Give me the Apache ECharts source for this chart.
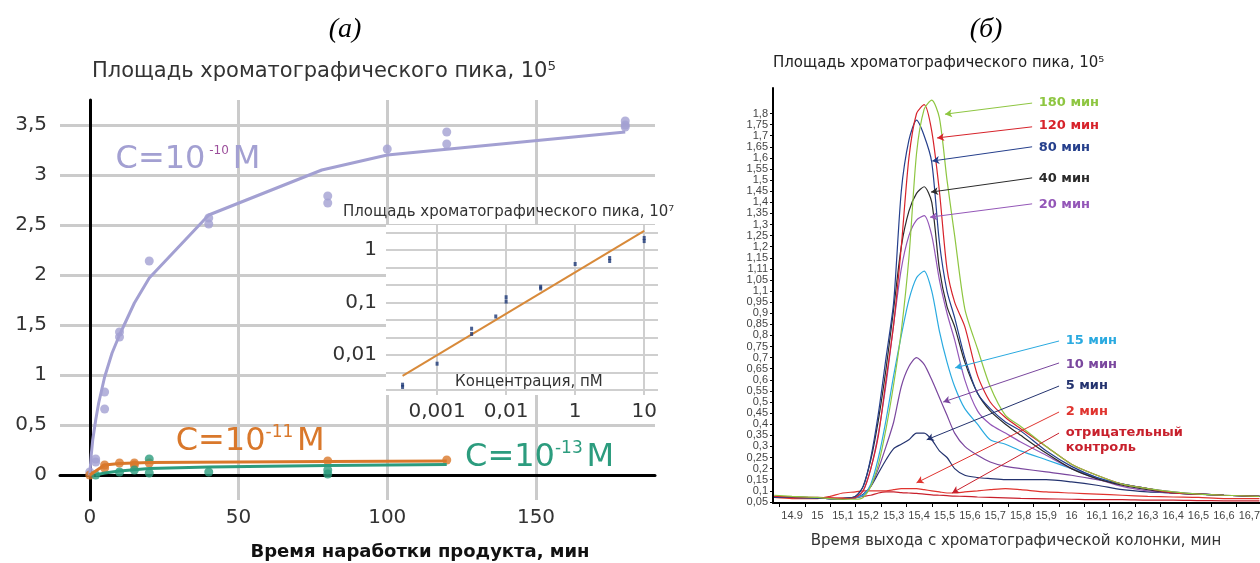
<!DOCTYPE html>
<html>
<head>
<meta charset="utf-8">
<script src="https://cdn.jsdelivr.net/npm/echarts@6/dist/echarts.min.js"></script>
<style>
html, body { margin: 0; padding: 0; background: #fff; }
#chart { width: 1260px; height: 563px; }
</style>
</head>
<body>
<div id="chart"></div>
<script>
// (а) main plot: time, min  /  peak area, 10^5
var c10Time = [0, 2, 2, 5, 5, 10, 10, 20, 40, 40, 80, 80, 100, 120, 120, 180, 180, 180];
var c10Area = [0.03, 0.13, 0.16, 0.83, 0.66, 1.43, 1.38, 2.14, 2.57, 2.51, 2.79, 2.72, 3.26, 3.43, 3.31, 3.54, 3.5, 3.48];
var c10FitTime = [0, 0.5, 1, 2, 3, 5, 7.5, 10, 15, 20, 40, 78, 100, 180];
var c10FitArea = [0, 0.2, 0.35, 0.55, 0.72, 0.98, 1.22, 1.4, 1.72, 1.97, 2.6, 3.05, 3.2, 3.43];
var c11Time = [0, 5, 5, 10, 15, 15, 20, 80, 120];
var c11Area = [0, 0.1, 0.07, 0.12, 0.12, 0.1, 0.12, 0.14, 0.15];
var c11FitTime = [0, 2, 5, 10, 20, 80, 120];
var c11FitArea = [0, 0.04, 0.1, 0.115, 0.125, 0.135, 0.14];
var c13Time = [2, 10, 15, 20, 20, 40, 80, 80];
var c13Area = [0, 0.03, 0.05, 0.16, 0.02, 0.03, 0.05, 0.01];
var c13FitTime = [2, 5, 10, 20, 40, 80, 120];
var c13FitArea = [0, 0.02, 0.04, 0.065, 0.08, 0.095, 0.105];

// inset: x in label slots, y in thirds of a decade (0 = "1")
var insetXTicks = [0, 1, 2, 3];
var insetXText = ['0,001', '0,01', '1', '10'];
var insetYTicks = [0, -3, -6];
var insetYText = ['1', '0,1', '0,01'];
var insetPtX = [-0.5, -0.5, 0, 0.5, 0.5, 0.85, 1, 1, 1.5, 1.5, 2, 2.5, 2.5, 3, 3];
var insetPtY = [-7.83, -7.7, -6.5, -4.5, -4.8, -3.8, -2.7, -2.95, -2.1, -2.2, -0.8, -0.46, -0.63, 0.69, 0.51];
var insetFitX = [-0.5, 3];
var insetFitY = [-7.2, 1.09];

// (б) chromatograms
var rtTime = [14.83, 14.9, 15.0, 15.05, 15.1, 15.15, 15.18, 15.21, 15.24, 15.27, 15.3, 15.33, 15.36, 15.39, 15.42, 15.45, 15.48, 15.51, 15.54, 15.58, 15.63, 15.68, 15.74, 15.8, 15.9, 16.0, 16.1, 16.2, 16.3, 16.4, 16.5, 16.6, 16.74];
var min180 = [0.08, 0.075, 0.07, 0.065, 0.062, 0.062, 0.07, 0.12, 0.22, 0.38, 0.58, 0.82, 1.15, 1.62, 1.82, 1.86, 1.78, 1.5, 1.25, 0.92, 0.74, 0.57, 0.44, 0.39, 0.3, 0.22, 0.17, 0.13, 0.11, 0.095, 0.085, 0.08, 0.075];
var min120 = [0.075, 0.072, 0.07, 0.068, 0.065, 0.07, 0.1, 0.2, 0.35, 0.6, 0.85, 1.2, 1.6, 1.8, 1.84, 1.72, 1.45, 1.1, 0.95, 0.84, 0.62, 0.5, 0.43, 0.38, 0.3, 0.22, 0.17, 0.13, 0.11, 0.09, 0.085, 0.08, 0.075];
var min80 = [0.07, 0.07, 0.068, 0.065, 0.065, 0.075, 0.12, 0.25, 0.45, 0.7, 0.95, 1.45, 1.68, 1.77, 1.7, 1.58, 1.22, 1.0, 0.88, 0.7, 0.54, 0.47, 0.41, 0.37, 0.28, 0.21, 0.16, 0.13, 0.11, 0.09, 0.085, 0.08, 0.075];
var min40 = [0.07, 0.07, 0.068, 0.065, 0.065, 0.075, 0.12, 0.24, 0.42, 0.65, 0.92, 1.2, 1.36, 1.44, 1.47, 1.4, 1.1, 0.93, 0.84, 0.68, 0.54, 0.46, 0.4, 0.35, 0.27, 0.2, 0.155, 0.125, 0.105, 0.09, 0.085, 0.08, 0.075];
var min20 = [0.07, 0.07, 0.068, 0.065, 0.065, 0.07, 0.1, 0.2, 0.36, 0.58, 0.85, 1.1, 1.25, 1.32, 1.34, 1.25, 1.05, 0.9, 0.78, 0.6, 0.46, 0.4, 0.36, 0.32, 0.26, 0.2, 0.155, 0.12, 0.1, 0.09, 0.085, 0.08, 0.075];
var min15 = [0.07, 0.07, 0.068, 0.065, 0.065, 0.07, 0.08, 0.13, 0.25, 0.42, 0.62, 0.8, 0.96, 1.06, 1.09, 1.0, 0.82, 0.68, 0.57, 0.47, 0.4, 0.33, 0.31, 0.28, 0.24, 0.2, 0.16, 0.13, 0.11, 0.09, 0.085, 0.08, 0.075];
var min10 = [0.07, 0.07, 0.068, 0.065, 0.065, 0.068, 0.08, 0.12, 0.2, 0.3, 0.41, 0.57, 0.66, 0.7, 0.67, 0.6, 0.52, 0.44, 0.36, 0.3, 0.26, 0.23, 0.21, 0.2, 0.185, 0.17, 0.15, 0.13, 0.11, 0.095, 0.085, 0.08, 0.075];
var min5 = [0.07, 0.07, 0.068, 0.065, 0.065, 0.068, 0.085, 0.12, 0.18, 0.24, 0.29, 0.31, 0.33, 0.36, 0.36, 0.33, 0.28, 0.25, 0.2, 0.17, 0.16, 0.155, 0.15, 0.15, 0.15, 0.14, 0.125, 0.105, 0.095, 0.09, 0.085, 0.08, 0.075];
var min2 = [0.07, 0.065, 0.065, 0.075, 0.09, 0.095, 0.1, 0.1, 0.1, 0.1, 0.105, 0.11, 0.11, 0.11, 0.105, 0.1, 0.095, 0.09, 0.09, 0.095, 0.1, 0.105, 0.11, 0.105, 0.095, 0.09, 0.085, 0.08, 0.075, 0.072, 0.07, 0.065, 0.065];
var control = [0.075, 0.07, 0.068, 0.067, 0.068, 0.07, 0.075, 0.08, 0.09, 0.095, 0.095, 0.092, 0.09, 0.088, 0.085, 0.082, 0.08, 0.078, 0.076, 0.075, 0.072, 0.07, 0.068, 0.066, 0.064, 0.062, 0.06, 0.06, 0.058, 0.058, 0.056, 0.055, 0.055];

var rtXText = ['14.9', '15', '15,1', '15,2', '15,3', '15,4', '15,5', '15,6', '15,7', '15,8', '15,9', '16', '16,1', '16,2', '16,3', '16,4', '16,5', '16,6', '16,7'];
// printed as in the original, bottom to top
var rtYText = ['0,05', '0,1', '0,15', '0,2', '0,25', '0,3', '0,35', '0,4', '0,45', '0,5', '0,55', '0,6', '0,65', '0,7', '0,75', '0,8', '0,85', '0,9', '0,95', '1,1', '1,05', '1,11', '1,15', '1,2', '1,25', '1,3', '1,35', '1,4', '1,45', '1,5', '1,55', '1,6', '1,65', '1,7', '1,75', '1,8'];

var rtNames = ['отрицательный\nконтроль', '2 мин', '5 мин', '10 мин', '15 мин', '20 мин', '40 мин', '80 мин', '120 мин', '180 мин'];
var rtValues = [control, min2, min5, min10, min15, min20, min40, min80, min120, min180];
var rtColors = ['#c8202c', '#e0342f', '#24336f', '#7a479e', '#2aaae0', '#9457b8', '#2b2b2b', '#253f8c', '#d7232b', '#8ec641'];
// annotation: label anchor and arrow tip, in data units
var noteT = [15.975, 15.975, 15.975, 15.975, 15.975, 15.869, 15.869, 15.869, 15.869, 15.869];
var noteV = [0.33, 0.455, 0.572, 0.667, 0.775, 1.388, 1.505, 1.645, 1.744, 1.847];
var arrowV = [0.36, 0.455, 0.572, 0.676, 0.775, 1.393, 1.51, 1.65, 1.74, 1.847];
var tipT = [15.53, 15.39, 15.43, 15.495, 15.542, 15.443, 15.447, 15.452, 15.471, 15.502];
var tipV = [0.09, 0.136, 0.33, 0.5, 0.654, 1.333, 1.446, 1.586, 1.69, 1.797];

var FONT = 'DejaVu Sans';
var SMALL = 'Liberation Sans';
var lav = '#a3a0d2', orange = '#d9782b', teal = '#2c9c7e';

function zip(a, b) { return a.map(function (v, i) { return [v, b[i]]; }); }
function near(v, step) { return Math.abs(v / step - Math.round(v / step)) < 1e-6; }

// tick positions of the (б) axes, taken from the label lists
var rtXPos = rtXText.map(function (s, i) { return +(14.9 + i * 0.1).toFixed(2); });
var rtXTickPos = rtXPos.map(function (v) { return +(v - 0.05).toFixed(3); });
var rtYPos = rtYText.map(function (s, i) { return +(0.05 + i * 0.05).toFixed(2); });

var chart = echarts.init(document.getElementById('chart'));

function cLabel(text, color, supColor, supSize, coord) {
    return { symbol: 'circle', symbolSize: 1, itemStyle: { color: 'rgba(0,0,0,0)' },
        label: { show: true, position: 'right', distance: 0, formatter: text,
            rich: { b: { fontSize: 32, color: color, fontFamily: FONT },
                    s: { fontSize: supSize, color: supColor, fontFamily: FONT, padding: [0, 0, 18, 0] } } },
        data: [{ coord: coord }] };
}

var series = [
    { type: 'line', xAxisIndex: 0, yAxisIndex: 0, data: zip(c10FitTime, c10FitArea), showSymbol: false,
      lineStyle: { color: lav, width: 3 }, markPoint: cLabel('{b|C=10} {s|-10} {b|M}', lav, '#9c4f9b', 12, [8.5, 3.15]) },
    { type: 'scatter', xAxisIndex: 0, yAxisIndex: 0, data: zip(c10Time, c10Area), symbolSize: 9, itemStyle: { color: lav } },
    { type: 'line', xAxisIndex: 0, yAxisIndex: 0, data: zip(c11FitTime, c11FitArea), showSymbol: false,
      lineStyle: { color: orange, width: 3 }, markPoint: cLabel('{b|C=10}{s|-11} {b|M}', orange, orange, 17, [28.7, 0.33]) },
    { type: 'scatter', xAxisIndex: 0, yAxisIndex: 0, data: zip(c11Time, c11Area), symbolSize: 9, itemStyle: { color: orange } },
    { type: 'line', xAxisIndex: 0, yAxisIndex: 0, data: zip(c13FitTime, c13FitArea), showSymbol: false,
      lineStyle: { color: teal, width: 3 }, markPoint: cLabel('{b|C=10}{s|-13} {b|M}', teal, teal, 17, [126, 0.17]) },
    { type: 'scatter', xAxisIndex: 0, yAxisIndex: 0, data: zip(c13Time, c13Area), symbolSize: 9, itemStyle: { color: teal } },
    // inset
    { type: 'line', xAxisIndex: 1, yAxisIndex: 1, z: 6, data: zip(insetFitX, insetFitY), showSymbol: false,
      lineStyle: { color: '#d88a3a', width: 2 },
      markPoint: { symbol: 'circle', symbolSize: 1, itemStyle: { color: 'rgba(0,0,0,0)' },
          label: { show: true, position: 'inside', formatter: 'Концентрация, пМ', fontSize: 15, color: '#333', fontFamily: FONT },
          data: [{ coord: [1.33, -7.55] }] } },
    { type: 'scatter', xAxisIndex: 1, yAxisIndex: 1, z: 7, data: zip(insetPtX, insetPtY), symbol: 'rect', symbolSize: [3, 4],
      itemStyle: { color: '#1d3877' } }
];

rtNames.forEach(function (name, i) {
    var c = rtColors[i];
    series.push({
        type: 'line', name: name, xAxisIndex: 2, yAxisIndex: 2,
        data: zip(rtTime, rtValues[i]), showSymbol: false, smooth: 0.25,
        lineStyle: { color: c, width: 1.2 },
        markLine: { silent: true, symbol: ['none', 'arrow'], symbolSize: [6, 7],
            label: { show: false }, lineStyle: { color: c, width: 1, type: 'solid' },
            data: [[{ coord: [noteT[i] - 0.024, arrowV[i]] }, { coord: [tipT[i], tipV[i]] }]] },
        markPoint: { symbol: 'circle', symbolSize: 1, itemStyle: { color: 'rgba(0,0,0,0)' },
            label: { show: true, position: 'right', distance: 0, formatter: name, color: c,
                fontFamily: FONT, fontSize: 13, fontWeight: 'bold', lineHeight: 15 },
            data: [{ coord: [noteT[i], noteV[i]] }] }
    });
});

chart.setOption({
    backgroundColor: '#fff',
    animation: false,
    textStyle: { fontFamily: FONT },
    grid: [
        { left: 60, top: 100, width: 595, height: 400, outerBoundsMode: 'none', containLabel: false },
        { left: 386, top: 225, width: 272, height: 170, show: true, backgroundColor: '#fff', borderWidth: 0, z: 3,
          outerBoundsMode: 'none', containLabel: false },
        { left: 773, top: 88, width: 487, height: 415, outerBoundsMode: 'none', containLabel: false }
    ],
    xAxis: [
        { gridIndex: 0, type: 'value', min: -10, max: 190, minInterval: 50, maxInterval: 50,
          axisLine: { onZero: true, lineStyle: { color: '#000', width: 3 } }, axisTick: { show: false },
          axisLabel: { fontSize: 20, color: '#333', margin: 8,
            formatter: function (v) { return near(v, 50) ? String(v) : ''; } },
          splitLine: { show: true, showMinLine: false, showMaxLine: false, lineStyle: { color: '#cbcbcb', width: 3 } } },
        { gridIndex: 1, type: 'value', min: -0.74, max: 3.2, minInterval: 1, maxInterval: 1, z: 4,
          axisLine: { show: false }, axisTick: { show: false },
          axisLabel: { fontSize: 20, color: '#333', margin: 7,
            formatter: function (v) { var k = insetXTicks.indexOf(Math.round(v)); return (near(v, 1) && k >= 0) ? insetXText[k] : ''; } },
          splitLine: { show: true, showMinLine: false, showMaxLine: false, lineStyle: { color: '#cfcfcf', width: 2 } } },
        { gridIndex: 2, type: 'value', min: 14.825, max: 16.742,
          axisLine: { onZero: false, lineStyle: { color: '#000', width: 2 } },
          axisTick: { show: true, customValues: rtXTickPos, length: 4, lineStyle: { color: '#000', width: 1 } },
          axisLabel: { fontSize: 11, color: '#444', margin: 7, fontFamily: SMALL, customValues: rtXPos,
            formatter: function (v) { var k = Math.round((v - 14.9) / 0.1); return rtXText[k] !== undefined ? rtXText[k] : ''; } },
          splitLine: { show: false } }
    ],
    yAxis: [
        { gridIndex: 0, type: 'value', min: -0.25, max: 3.75, minInterval: 0.5, maxInterval: 0.5,
          axisLine: { onZero: true, lineStyle: { color: '#000', width: 3 } }, axisTick: { show: false },
          axisLabel: { fontSize: 20, color: '#333', margin: 13,
            formatter: function (v) { return near(v, 0.5) ? String(v).replace('.', ',') : ''; } },
          splitLine: { show: true, showMinLine: false, showMaxLine: false, lineStyle: { color: '#cbcbcb', width: 3 } } },
        { gridIndex: 1, type: 'value', min: -8.29, max: 1.43, minInterval: 1, maxInterval: 1, z: 4,
          axisLine: { show: false }, axisTick: { show: false },
          axisLabel: { fontSize: 20, color: '#333', margin: 9,
            formatter: function (v) { var k = insetYTicks.indexOf(Math.round(v)); return (near(v, 1) && k >= 0) ? insetYText[k] : ''; } },
          splitLine: { show: true, showMinLine: false, showMaxLine: false, lineStyle: { color: '#cfcfcf', width: 2 } } },
        { gridIndex: 2, type: 'value', min: 0.045, max: 1.915,
          axisLine: { onZero: false, lineStyle: { color: '#000', width: 2 } },
          axisTick: { show: true, customValues: rtYPos, length: 3, lineStyle: { color: '#000' } },
          axisLabel: { fontSize: 11, color: '#444', margin: 5, fontFamily: SMALL, customValues: rtYPos,
            formatter: function (v) { var k = Math.round((v - 0.05) / 0.05); return rtYText[k] !== undefined ? rtYText[k] : ''; } },
          splitLine: { show: false } }
    ],
    graphic: [
        { type: 'text', x: 345, y: 30, style: { text: '(а)', font: 'italic 28px "Liberation Serif"', fill: '#000', align: 'center', verticalAlign: 'middle' } },
        { type: 'text', x: 986, y: 30, style: { text: '(б)', font: 'italic 28px "Liberation Serif"', fill: '#000', align: 'center', verticalAlign: 'middle' } },
        { type: 'text', x: 92, y: 72, style: { text: 'Площадь хроматографического пика, 10⁵', font: '21px "DejaVu Sans"', fill: '#333', verticalAlign: 'middle' } },
        { type: 'text', x: 343, y: 212, z: 10, style: { text: 'Площадь хроматографического пика, 10⁷', font: '15px "DejaVu Sans"', fill: '#333', verticalAlign: 'middle' } },
        { type: 'text', x: 420, y: 552, style: { text: 'Время наработки продукта, мин', font: 'bold 18px "DejaVu Sans"', fill: '#111', align: 'center', verticalAlign: 'middle' } },
        { type: 'text', x: 773, y: 63, style: { text: 'Площадь хроматографического пика, 10⁵', font: '15px "DejaVu Sans"', fill: '#222', verticalAlign: 'middle' } },
        { type: 'text', x: 1016, y: 541, style: { text: 'Время выхода с хроматографической колонки, мин', font: '15px "DejaVu Sans"', fill: '#333', align: 'center', verticalAlign: 'middle' } }
    ],
    series: series
});
</script>
</body>
</html>
